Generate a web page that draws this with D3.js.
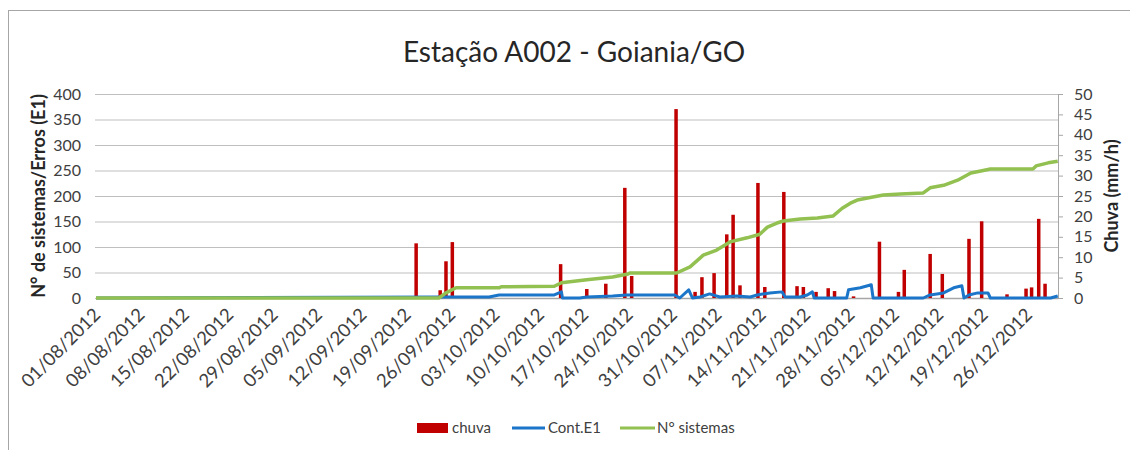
<!DOCTYPE html>
<html>
<head>
<meta charset="utf-8">
<script src="https://cdn.jsdelivr.net/npm/d3@7"></script>
<style>
  body { margin: 0; background: #fff; }
  svg text { font-family: Lato, "Open Sans", sans-serif; }
</style>
</head>
<body>
<div id="chart"></div>
<script>
// chuva (mm/h), right axis
const rainDates = ["2012-09-20 12", "2012-09-24 07", "2012-09-25 05", "2012-09-26 05", "2012-10-13 07",
  "2012-10-17 10", "2012-10-20 10", "2012-10-23 10", "2012-10-24 12", "2012-10-31 12",
  "2012-11-03 12", "2012-11-04 14", "2012-11-06 12", "2012-11-07 14", "2012-11-08 12",
  "2012-11-09 12", "2012-11-10 14", "2012-11-13 10", "2012-11-14 12", "2012-11-17 12",
  "2012-11-19 14", "2012-11-20 14", "2012-11-22 14", "2012-11-24 12", "2012-11-25 12",
  "2012-11-28 12", "2012-12-02 14", "2012-12-05 14", "2012-12-06 12", "2012-12-10 14",
  "2012-12-12 12", "2012-12-16 17", "2012-12-18 17", "2012-12-22 17", "2012-12-25 17",
  "2012-12-26 14", "2012-12-27 17", "2012-12-28 17"];
const rainValues = [13.4, 1.9, 9, 13.7, 8.3,
  2.2, 3.5, 27, 5.4, 46.3,
  1.5, 5.1, 6.1, 0.5, 15.6,
  20.4, 3.1, 28.2, 2.7, 26,
  2.9, 2.7, 1.5, 2.4, 1.7,
  0.4, 13.8, 1.5, 6.9, 10.8,
  5.9, 14.5, 18.8, 0.9, 2.3,
  2.6, 19.4, 3.5];

// Cont.E1, left axis
const errDates = ["2012-08-01 00", "2012-09-24 14", "2012-10-02 00", "2012-10-03 14", "2012-10-12 07",
  "2012-10-13 10", "2012-10-13 14", "2012-10-16 07", "2012-10-17 10", "2012-10-21 12",
  "2012-10-23 17", "2012-10-31 07", "2012-11-01 02", "2012-11-02 12", "2012-11-03 02",
  "2012-11-04 07", "2012-11-05 19", "2012-11-07 10", "2012-11-10 02", "2012-11-12 05",
  "2012-11-13 07", "2012-11-15 07", "2012-11-17 05", "2012-11-17 17", "2012-11-20 02",
  "2012-11-21 05", "2012-11-22 00", "2012-11-22 07", "2012-11-27 10", "2012-11-27 17",
  "2012-11-29 14", "2012-12-01 07", "2012-12-01 14", "2012-12-09 12", "2012-12-10 14",
  "2012-12-12 17", "2012-12-14 07", "2012-12-15 14", "2012-12-15 22", "2012-12-16 17",
  "2012-12-18 02", "2012-12-19 17", "2012-12-20 02", "2012-12-29 14", "2012-12-30 17"];
const errValues = [0, 2, 2, 6, 6,
  12, 0, 0, 2, 4,
  6, 6, 0, 16, 0,
  2, 8, 2, 4, 2,
  6, 10, 12, 2, 2,
  6, 12, 0, 0, 16,
  20, 26, 0, 0, 6,
  10, 20, 24, 0, 6,
  10, 10, 0, 0, 4];

// N° sistemas, left axis
const sysDates = ["2012-08-01 00", "2012-09-24 02", "2012-09-25 05", "2012-09-26 19", "2012-10-03 14",
  "2012-10-03 22", "2012-10-12 07", "2012-10-13 10", "2012-10-17 10", "2012-10-21 12",
  "2012-10-23 22", "2012-10-24 05", "2012-10-31 14", "2012-11-02 17", "2012-11-04 19",
  "2012-11-06 22", "2012-11-09 00", "2012-11-11 17", "2012-11-13 17", "2012-11-14 22",
  "2012-11-16 10", "2012-11-17 10", "2012-11-20 02", "2012-11-22 19", "2012-11-25 07",
  "2012-11-26 17", "2012-11-28 00", "2012-11-29 02", "2012-11-30 17", "2012-12-03 05",
  "2012-12-05 22", "2012-12-09 12", "2012-12-10 14", "2012-12-12 17", "2012-12-14 22",
  "2012-12-17 00", "2012-12-18 14", "2012-12-20 02", "2012-12-26 19", "2012-12-27 07",
  "2012-12-29 05", "2012-12-30 17"];
const sysValues = [0, 0, 10, 20, 20,
  22, 23, 30, 36, 41,
  47, 49, 49, 61, 84,
  94, 110, 118, 125, 139,
  147, 151, 155, 157, 161,
  176, 186, 192, 196, 202,
  204, 206, 216, 221, 231,
  245, 249, 253, 253, 259,
  265, 268];

const tickLabels = ["01/08/2012", "08/08/2012", "15/08/2012", "22/08/2012", "29/08/2012",
  "05/09/2012", "12/09/2012", "19/09/2012", "26/09/2012", "03/10/2012", "10/10/2012",
  "17/10/2012", "24/10/2012", "31/10/2012", "07/11/2012", "14/11/2012", "21/11/2012",
  "28/11/2012", "05/12/2012", "12/12/2012", "19/12/2012", "26/12/2012"];

const leftTicks = [0, 50, 100, 150, 200, 250, 300, 350, 400];
const rightTicks = [0, 5, 10, 15, 20, 25, 30, 35, 40, 45, 50];

const W = 1130, H = 450;
const plot = { left: 96, right: 1058, top: 94, bottom: 298 };

const parseHour = d3.timeParse("%Y-%m-%d %H");
const parseDay = d3.timeParse("%d/%m/%Y");

const svg = d3.select("#chart").append("svg")
  .attr("width", W)
  .attr("height", H);

// outer frame (only left/top edges visible in the picture)
svg.append("rect")
  .attr("x", 8.5).attr("y", 10.5)
  .attr("width", W + 20).attr("height", H + 20)
  .attr("fill", "none")
  .attr("stroke", "#a6a6a6");

const x = d3.scaleTime()
  .domain([parseHour("2012-08-01 00"), parseHour("2012-12-30 18")])
  .range([plot.left, plot.right]);
const yL = d3.scaleLinear().domain([0, 400]).range([plot.bottom, plot.top]);
const yR = d3.scaleLinear().domain([0, 50]).range([plot.bottom, plot.top]);

// gridlines
svg.append("g")
  .attr("transform", `translate(${plot.left - 1},0)`)
  .call(d3.axisLeft(yL).tickValues(leftTicks).tickSize(-(plot.right - plot.left + 1)).tickFormat(""))
  .call(g => g.select(".domain").remove())
  .call(g => g.selectAll("line").attr("stroke", "#bfbfbf").attr("stroke-width", 1.2));

// left axis labels
svg.append("g")
  .attr("transform", `translate(${plot.left - 4},0)`)
  .call(d3.axisLeft(yL).tickValues(leftTicks).tickSize(0).tickPadding(11))
  .call(g => g.select(".domain").remove())
  .call(g => g.selectAll("text").attr("fill", "#404040").style("font-size", "16px"));

// right axis
svg.append("g")
  .attr("transform", `translate(${plot.right},0)`)
  .call(d3.axisRight(yR).tickValues(rightTicks).tickSize(5).tickPadding(11))
  .call(g => g.select(".domain").attr("stroke", "#a6a6a6"))
  .call(g => g.selectAll("line").attr("stroke", "#a6a6a6"))
  .call(g => g.selectAll("text").attr("fill", "#404040").style("font-size", "16px"));

// bottom axis
const xAxis = svg.append("g")
  .attr("transform", `translate(0,${plot.bottom})`)
  .call(d3.axisBottom(x).tickValues(tickLabels.map(parseDay)).tickSize(0).tickFormat(d3.timeFormat("%d/%m/%Y")))
  .call(g => g.select(".domain").attr("stroke", "#a6a6a6").attr("stroke-width", 1.5));
xAxis.selectAll("text")
  .attr("fill", "#404040")
  .style("font-size", "18.5px")
  .attr("text-anchor", "end")
  .attr("dx", "0")
  .attr("dy", "0")
  .attr("y", 0)
  .attr("transform", "translate(5,18) rotate(-45)");

// chuva bars
const rain = rainDates.map((d, i) => ({ date: parseHour(d), value: rainValues[i] }));
svg.append("g")
  .selectAll("rect")
  .data(rain)
  .join("rect")
  .attr("x", d => x(d.date) - 1.75)
  .attr("y", d => yR(d.value))
  .attr("width", 3.5)
  .attr("height", d => plot.bottom - yR(d.value))
  .attr("fill", "#c00000");

const line = d3.line()
  .x(d => x(d.date))
  .y(d => yL(d.value));

const errData = errDates.map((d, i) => ({ date: parseHour(d), value: errValues[i] }));
svg.append("path")
  .datum(errData)
  .attr("fill", "none")
  .attr("stroke", "#1b75c9")
  .attr("stroke-width", 3)
  .attr("stroke-linejoin", "round")
  .attr("d", line);

const sysData = sysDates.map((d, i) => ({ date: parseHour(d), value: sysValues[i] }));
svg.append("path")
  .datum(sysData)
  .attr("fill", "none")
  .attr("stroke", "#92c051")
  .attr("stroke-width", 3.5)
  .attr("stroke-linejoin", "round")
  .attr("d", line);

// title
svg.append("text")
  .attr("x", 574)
  .attr("y", 62)
  .attr("text-anchor", "middle")
  .attr("fill", "#262626")
  .style("font-size", "28px")
  .text("Estação A002 - Goiania/GO");

// axis titles
svg.append("text")
  .attr("transform", `translate(45,${(plot.top + plot.bottom) / 2}) rotate(-90)`)
  .attr("text-anchor", "middle")
  .attr("fill", "#262626")
  .style("font-size", "18px")
  .style("font-weight", "bold")
  .text("N° de sistemas/Erros (E1)");

svg.append("text")
  .attr("transform", `translate(1118,${(plot.top + plot.bottom) / 2}) rotate(-90)`)
  .attr("text-anchor", "middle")
  .attr("fill", "#262626")
  .style("font-size", "18px")
  .style("font-weight", "bold")
  .text("Chuva (mm/h)");

// legend
const legend = svg.append("g").attr("transform", "translate(0,428)");
legend.append("rect").attr("x", 417).attr("y", -5).attr("width", 31).attr("height", 10).attr("fill", "#c00000");
legend.append("text").attr("x", 452).attr("y", 5).attr("fill", "#404040").style("font-size", "15px").text("chuva");
legend.append("line").attr("x1", 512).attr("x2", 545).attr("y1", 0).attr("y2", 0)
  .attr("stroke", "#1b75c9").attr("stroke-width", 3);
legend.append("text").attr("x", 548).attr("y", 5).attr("fill", "#404040").style("font-size", "15px").text("Cont.E1");
legend.append("line").attr("x1", 620).attr("x2", 655).attr("y1", 0).attr("y2", 0)
  .attr("stroke", "#92c051").attr("stroke-width", 3);
legend.append("text").attr("x", 657).attr("y", 5).attr("fill", "#404040").style("font-size", "15px").text("N° sistemas");
</script>
</body>
</html>
